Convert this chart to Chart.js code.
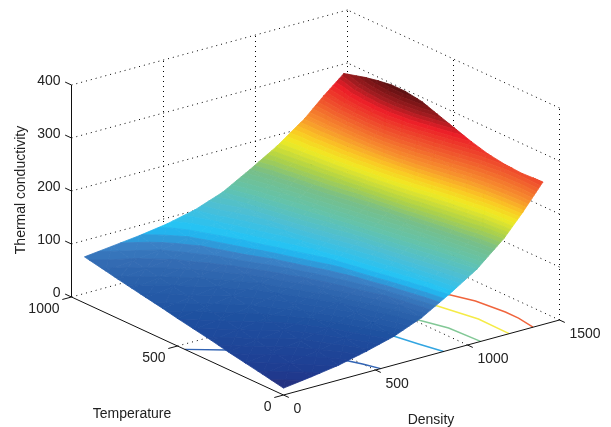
<!DOCTYPE html>
<html>
<head>
<meta charset="utf-8">
<title>Thermal conductivity</title>
<script src="https://cdn.jsdelivr.net/npm/chart.js@4/dist/chart.umd.min.js"></script>
<style>
  html, body { margin: 0; padding: 0; background: #fff; }
  canvas { display: block; }
</style>
</head>
<body>
<canvas id="surface" width="611" height="427"></canvas>
<script>
// values
const densityValues = [0, 150, 300, 450, 600, 750, 900, 1050, 1200, 1300, 1410];
const temperatureValues = [0, 100, 180, 260, 340, 420, 500, 570, 650, 715, 780, 840, 939];
const conductivityT0 = [13, 20, 28, 40, 54, 75, 105, 138, 183, 222, 269];
const conductivityT100 = [21, 28, 36, 47, 61, 81, 110, 144, 188, 225, 267];
const conductivityT180 = [27, 34, 41, 52, 66, 86, 115, 149, 195, 229, 269];
const conductivityT260 = [33, 41, 47, 58, 72, 92, 120, 155, 201, 235, 274];
const conductivityT340 = [40, 47, 54, 64, 78, 97, 125, 161, 208, 244, 283];
const conductivityT420 = [46, 53, 60, 70, 84, 102, 130, 167, 216, 253, 294];
const conductivityT500 = [52, 59, 66, 75, 90, 108, 136, 173, 223, 262, 305];
const conductivityT570 = [58, 65, 71, 81, 95, 113, 141, 178, 228, 270, 315];
const conductivityT650 = [64, 70, 77, 87, 101, 118, 147, 184, 232, 276, 320];
const conductivityT715 = [69, 75, 82, 91, 105, 122, 151, 188, 234, 277, 320];
const conductivityT780 = [74, 80, 86, 95, 109, 126, 155, 191, 235, 276, 316];
const conductivityT840 = [79, 84, 90, 99, 113, 130, 159, 194, 236, 274, 311];
const conductivityT939 = [87, 93, 99, 107, 119, 138, 167, 198, 236, 268, 300];

// floor contours, density and temperature pairs
const contour50Density = [0, 141, 300, 474, 500, 528];
const contour50Temperature = [466, 387, 260, 105, 61, 0];
const contour100Density = [700, 813, 840, 870];
const contour100Temperature = [330, 187, 92, 0];
const contour150Density = [950, 1017, 1061, 1071];
const contour150Temperature = [350, 246, 142, 0];
const contour200Density = [1130, 1186, 1230, 1226];
const contour200Temperature = [400, 303, 148, 0];
const contour250Density = [1260, 1312, 1353, 1374, 1374, 1356];
const contour250Temperature = [430, 351, 269, 146, 84, 0];

const densityTicks = [0, 500, 1000, 1500];
const temperatureTicks = [0, 500, 1000];
const conductivityTicks = [0, 100, 200, 300, 400];

const densityLabel = 'Density';
const temperatureLabel = 'Temperature';
const conductivityLabel = 'Thermal conductivity';

const DENSITY_MAX = 1500, TEMPERATURE_MAX = 1000, CONDUCTIVITY_MAX = 400;
const COLOR_MIN = 13, COLOR_MAX = 321, COLOR_STEPS = 64;

// view of the 3d box on the page
function project(d, t, z) {
  const a = d / DENSITY_MAX, b = t / TEMPERATURE_MAX, c = z / CONDUCTIVITY_MAX;
  return { x: 283.5 + 276 * a - 212 * b, y: 395 - 75 * a - 98 * b - 212 * c };
}

// jet map as it came out of the printed figure
const colorStops = [
  [0, 40, 48, 125], [0.03, 30, 60, 145], [0.13, 30, 80, 160], [0.19, 40, 95, 170],
  [0.23, 52, 108, 180], [0.26, 58, 130, 198], [0.285, 35, 175, 235], [0.3, 35, 195, 245],
  [0.36, 75, 190, 215], [0.43, 100, 195, 170], [0.5, 120, 190, 135], [0.56, 175, 210, 70],
  [0.6, 215, 225, 50], [0.625, 240, 235, 35], [0.67, 250, 200, 35], [0.72, 248, 150, 45],
  [0.8, 240, 90, 45], [0.885, 236, 30, 40], [0.93, 160, 28, 32], [1, 85, 15, 15]
];

function colorAt(f) {
  let i = 0;
  while (i < colorStops.length - 2 && colorStops[i + 1][0] < f) i++;
  const p = colorStops[i], q = colorStops[i + 1];
  const k = Math.min(1, Math.max(0, (f - p[0]) / (q[0] - p[0])));
  const c = [1, 2, 3].map(n => Math.round(p[n] + (q[n] - p[n]) * k));
  return `rgb(${c[0]},${c[1]},${c[2]})`;
}

function clipAbove(poly, level, sign) {
  const out = [];
  for (let i = 0; i < poly.length; i++) {
    const p = poly[i], q = poly[(i + 1) % poly.length];
    const pIn = sign * (p[2] - level) >= 0, qIn = sign * (q[2] - level) >= 0;
    if (pIn) out.push(p);
    if (pIn !== qIn) {
      const k = (level - p[2]) / (q[2] - p[2]);
      out.push([p[0] + (q[0] - p[0]) * k, p[1] + (q[1] - p[1]) * k, level]);
    }
  }
  return out;
}

const conductivityRows = [conductivityT0, conductivityT100, conductivityT180, conductivityT260,
  conductivityT340, conductivityT420, conductivityT500, conductivityT570, conductivityT650,
  conductivityT715, conductivityT780, conductivityT840, conductivityT939];

// one dataset per colour step, the polygons in it are split by gaps
function surfaceDatasets() {
  const triangles = [];
  for (let r = 0; r < temperatureValues.length - 1; r++) {
    for (let c = 0; c < densityValues.length - 1; c++) {
      const corner = (i, j) => [densityValues[j], temperatureValues[i], conductivityRows[i][j]];
      const a = corner(r, c), b = corner(r, c + 1), e = corner(r + 1, c + 1), f = corner(r + 1, c);
      triangles.push([a, b, e], [a, e, f]);
    }
  }
  const sets = [];
  const step = (COLOR_MAX - COLOR_MIN) / COLOR_STEPS;
  for (let s = 0; s < COLOR_STEPS; s++) {
    const low = COLOR_MIN + s * step, high = low + step;
    const data = [];
    for (const tri of triangles) {
      const poly = clipAbove(clipAbove(tri, s === 0 ? -1 : low, 1), s === COLOR_STEPS - 1 ? 1000 : high, -1);
      if (poly.length < 3) continue;
      for (const p of poly) data.push(project(p[0], p[1], p[2]));
      data.push(project(poly[0][0], poly[0][1], poly[0][2]));
      data.push({ x: NaN, y: NaN });
    }
    const color = colorAt((s + 0.5) / COLOR_STEPS);
    sets.push({
      data, order: 2, showLine: true, pointRadius: 0, fill: 'shape',
      backgroundColor: color, borderColor: color, borderWidth: 0.8, spanGaps: false
    });
  }
  return sets;
}

function lineSet(points, color, width, dash, order) {
  return {
    data: points.map(p => project(p[0], p[1], p[2])),
    order, showLine: true, pointRadius: 0, fill: false, borderColor: color,
    borderWidth: width, borderDash: dash, tension: 0
  };
}

function gridDatasets() {
  const sets = [];
  const dotted = pts => sets.push(lineSet(pts, '#000', 1, [1, 4], 4));
  const dMax = DENSITY_MAX, tMax = TEMPERATURE_MAX, zMax = CONDUCTIVITY_MAX;
  conductivityTicks.forEach(z => {
    dotted([[0, tMax, z], [dMax, tMax, z]]);
    dotted([[dMax, 0, z], [dMax, tMax, z]]);
  });
  densityTicks.slice(1).forEach(d => {
    dotted([[d, tMax, 0], [d, tMax, zMax]]);
    if (d < dMax) dotted([[d, 0, 0], [d, tMax, 0]]);
  });
  temperatureTicks.forEach(t => {
    dotted([[dMax, t, 0], [dMax, t, zMax]]);
    if (t > 0 && t < tMax) dotted([[0, t, 0], [dMax, t, 0]]);
  });
  return sets;
}

function axisDatasets() {
  const sets = [];
  const solid = pts => sets.push(lineSet(pts, '#111', 1, [], 1));
  const dMax = DENSITY_MAX, tMax = TEMPERATURE_MAX, zMax = CONDUCTIVITY_MAX;
  solid([[0, tMax, 0], [0, tMax, zMax]]);
  solid([[0, tMax, 0], [0, 0, 0]]);
  solid([[0, 0, 0], [dMax, 0, 0]]);
  conductivityTicks.forEach(z => solid([[0, tMax, z], [0, tMax + 30, z]]));
  temperatureTicks.forEach(t => solid([[0, t, 0], [-50, t, 0]]));
  densityTicks.forEach(d => solid([[d, 0, 0], [d, -25, 0]]));
  return sets;
}

function contourDataset(densities, temperatures, color) {
  return lineSet(densities.map((d, i) => [d, temperatures[i], 0]), color, 1.4, [], 3);
}

const axisText = {
  id: 'axisText',
  afterDraw(chart) {
    const { ctx, scales } = chart;
    const put = (text, p, dx, dy, align) => {
      ctx.textAlign = align;
      ctx.fillText(text, scales.x.getPixelForValue(p.x) + dx, scales.y.getPixelForValue(p.y) + dy);
    };
    ctx.save();
    ctx.font = '14px "Liberation Sans"';
    ctx.fillStyle = '#222';
    ctx.textBaseline = 'middle';
    conductivityTicks.forEach(z => put(String(z), project(0, TEMPERATURE_MAX, z), -11, -4, 'right'));
    temperatureTicks.forEach(t => put(String(t), project(0, t, 0), -12, 12, 'right'));
    densityTicks.forEach(d => put(String(d), project(d, 0, 0), 10, 14, 'left'));
    put(temperatureLabel, { x: 132, y: 414 }, 0, 0, 'center');
    put(densityLabel, { x: 431, y: 420 }, 0, 0, 'center');
    ctx.translate(scales.x.getPixelForValue(21), scales.y.getPixelForValue(190));
    ctx.rotate(-Math.PI / 2);
    ctx.textAlign = 'center';
    ctx.fillText(conductivityLabel, 0, 0);
    ctx.restore();
  }
};

new Chart(document.getElementById('surface'), {
  type: 'scatter',
  data: {
    datasets: [
      ...axisDatasets(),
      ...surfaceDatasets(),
      contourDataset(contour50Density, contour50Temperature, '#3264b4'),
      contourDataset(contour100Density, contour100Temperature, '#32a5e1'),
      contourDataset(contour150Density, contour150Temperature, '#82c896'),
      contourDataset(contour200Density, contour200Temperature, '#f5eb46'),
      contourDataset(contour250Density, contour250Temperature, '#f0643c'),
      ...gridDatasets()
    ]
  },
  options: {
    responsive: false,
    animation: false,
    layout: { padding: 0 },
    plugins: { legend: { display: false }, tooltip: { enabled: false }, title: { display: false } },
    scales: {
      x: { type: 'linear', display: false, min: 0, max: 611 },
      y: { type: 'linear', display: false, min: 0, max: 427, reverse: true }
    }
  },
  plugins: [axisText]
});
</script>
</body>
</html>
